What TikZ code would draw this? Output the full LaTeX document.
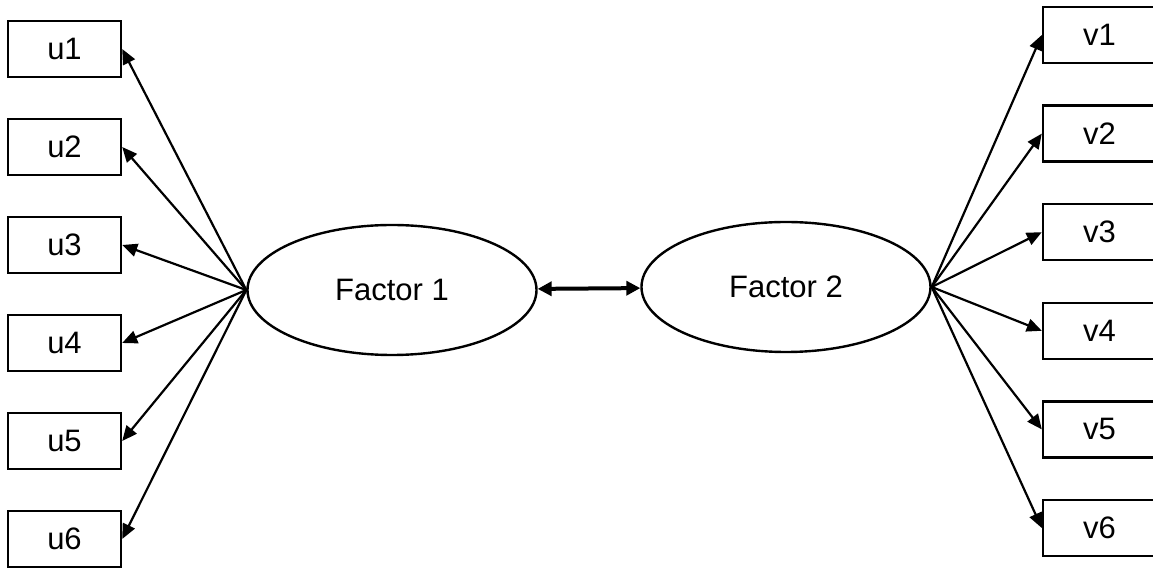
\documentclass[tikz,border=0pt]{standalone}
\usepackage{fontspec}
\setmainfont{Liberation Sans}
\usetikzlibrary{arrows.meta,shapes.geometric}
\tikzset{
  itembox/.style={draw, line width=1.2pt, minimum width=56.5pt, minimum height=28pt,
    inner sep=0pt, font=\fontsize{15.5}{18}\selectfont},
  factorell/.style={draw, ellipse, line width=1.2pt, minimum width=144.5pt,
    minimum height=65pt, inner sep=0pt, font=\fontsize{15.5}{18}\selectfont},
  loadln/.style={-{Triangle[length=7.5pt,width=6.5pt]}, line width=1.1pt},
  corrln/.style={{Triangle[length=7pt,width=7pt]}-{Triangle[length=7pt,width=7pt]}, line width=2pt},
}
\begin{document}
\begin{tikzpicture}[x=0.5pt,y=-0.5pt]
  \useasboundingbox (0,0) rectangle (1153,571);
  % --- the two factors ---
  \node[factorell] (f1) at (392,290) {Factor 1};
  \node[factorell] (f2) at (786,287) {Factor 2};
  % --- indicators and loadings ---
  \foreach \i in {1,...,6} {
    \node[itembox] (u\i) at (64.5,{49+98*(\i-1)}) {u\i};
    \node[itembox] (v\i) at (1099.5,{35+98.6*(\i-1)}) {v\i};
    \draw[loadln] (f1.west) -- (u\i.east);
    \draw[loadln] (f2.east) -- (v\i.west);
  }
  % correlation
  \draw[corrln] (f1) -- (f2);
\end{tikzpicture}
\end{document}
